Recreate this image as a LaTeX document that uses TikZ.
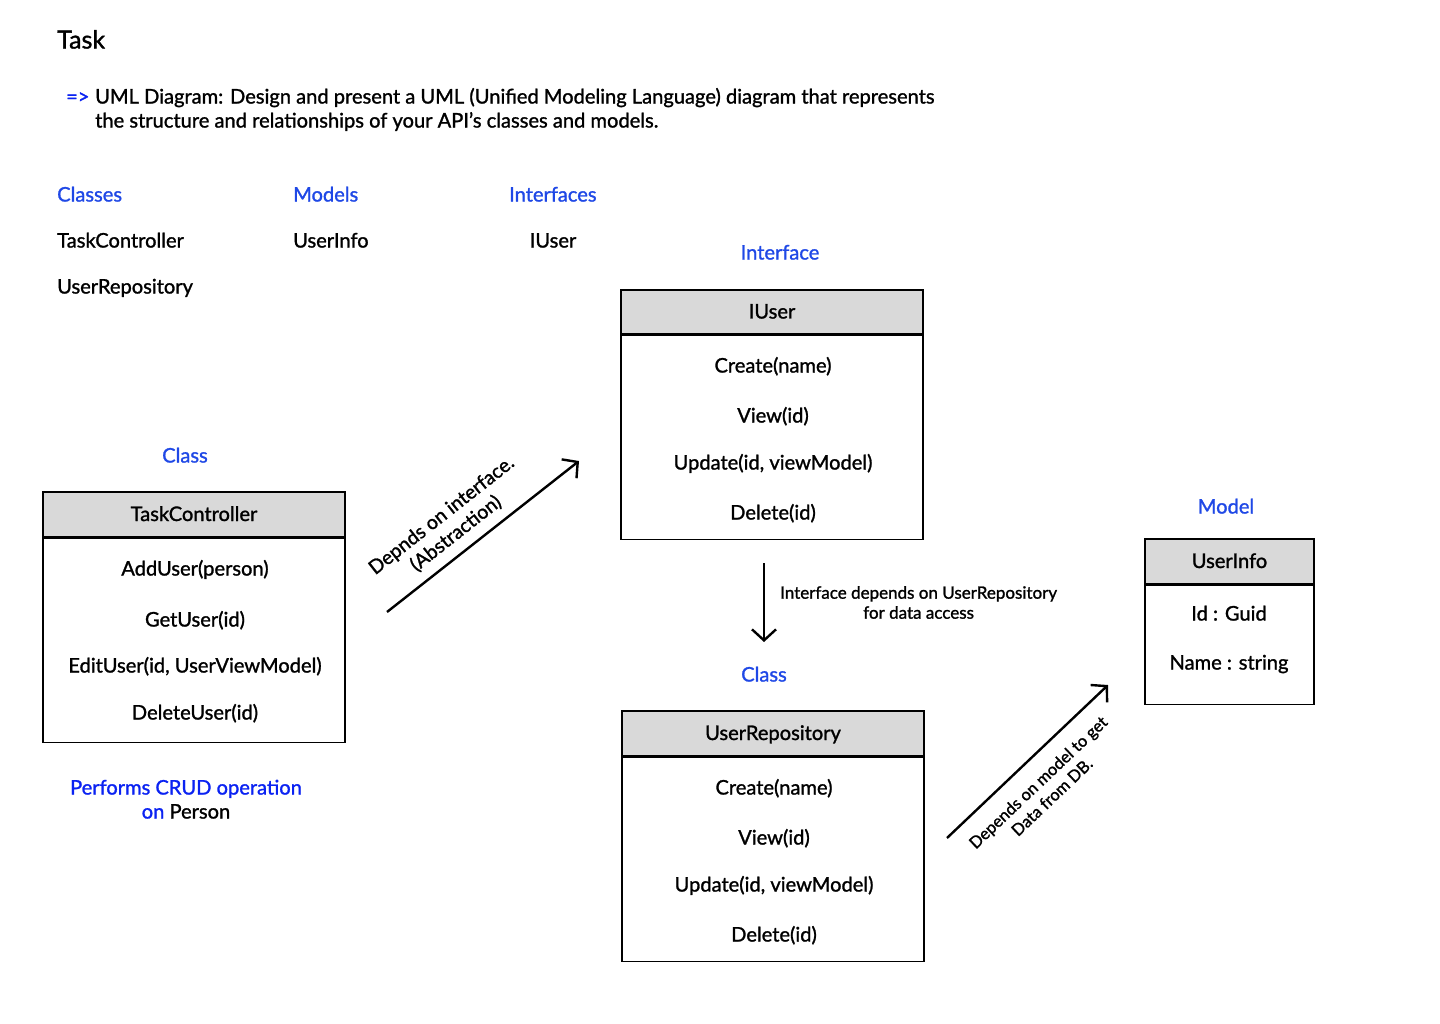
\documentclass[tikz,border=0pt]{standalone}
\usepackage{fontspec}
\setmainfont{Lato}[UprightFeatures={FakeBold=1.3}]
\usetikzlibrary{arrows.meta}
\definecolor{hdrgray}{HTML}{D9D9D9}
\definecolor{lblblue}{HTML}{1F48E6}
\definecolor{crudblue}{HTML}{0A22F2}

\begin{document}
\begin{tikzpicture}[x=1pt, y=-1pt,
    txt/.style={inner sep=0pt, anchor=mid, font=\fontsize{20.1}{24}\selectfont},
    lbl/.style={txt, text=lblblue},
    hdr/.style={draw, fill=hdrgray, line width=1.3pt, inner sep=0pt,
      text height=14pt, text depth=1pt, font=\fontsize{20.1}{24}\selectfont},
    body/.style={draw, line width=1.3pt, anchor=north, inner sep=0pt},
    note/.style={align=center},
    dep/.style={-{Straight Barb[length=11pt, width=24pt]}, line width=2.4pt}]
  \useasboundingbox (0,0) rectangle (1440,1024);

  % heading
  \node [txt, anchor=mid west, font=\fontsize{25}{28}\selectfont] (task) at (57,46) {Task};
  \node [lbl, anchor=mid west, text=crudblue] (arr) at (66,101) {=>};
  \node [txt, anchor=mid west] (desc1) at (95,101) {UML Diagram: Design and present a
    UML (Unified Modeling Language) diagram that represents};
  \node [txt, anchor=mid west] (desc2) at (95,125) {the structure and relationships
    of your API's classes and models.};

  % lists
  \node [lbl, anchor=mid west] (classes) at (57,199) {Classes};
  \node [lbl, anchor=mid west] (models) at (293,199) {Models};
  \node [lbl, anchor=mid west] (ifaces) at (509,199) {Interfaces};
  \node [txt, anchor=mid west] (l1) at (57,245) {TaskController};
  \node [txt, anchor=mid west] (l2) at (57,291) {UserRepository};
  \node [txt, anchor=mid west] (l3) at (293,245) {UserInfo};
  \node [txt] (l4) at (553,245) {IUser};

  % IUser
  \node [lbl] (iulbl) at (780,257) {Interface};
  \node [hdr, minimum width=302pt, minimum height=44pt] (iu) at (772,312) {IUser};
  \node [body, minimum width=302pt, minimum height=204pt] (iub) at (iu.south) {};
  \begin{scope}[every node/.style={txt}]
    \node (iu1) at (773,370) {Create(name)}; \node (iu2) at (773,420) {View(id)};
    \node (iu3) at (773,467) {Update(id, viewModel)}; \node (iu4) at (773,517) {Delete(id)};
  \end{scope}

  % TaskController
  \node [lbl] (tclbl) at (185,460) {Class};
  \node [hdr, minimum width=302pt, minimum height=45pt] (tc) at (194,514.5) {TaskController};
  \node [body, minimum width=302pt, minimum height=204pt] (tcb) at (tc.south) {};
  \begin{scope}[every node/.style={txt}]
    \node (tc1) at (195,573) {AddUser(person)}; \node (tc2) at (195,624) {GetUser(id)};
    \node (tc3) at (195,670) {EditUser(id, UserViewModel)}; \node (tc4) at (195,717) {DeleteUser(id)};
  \end{scope}
  \node [lbl, text=crudblue] (crud1) at (186,792) {Performs CRUD operation};
  \node [lbl, text=crudblue] (crud2) at (186,816) {on \textcolor{black}{Person}};

  % UserRepository
  \node [lbl] (urlbl) at (764,679) {Class};
  \node [hdr, minimum width=302pt, minimum height=45pt] (ur) at (773,733.5) {UserRepository};
  \node [body, minimum width=302pt, minimum height=204pt] (urb) at (ur.south) {};
  \begin{scope}[every node/.style={txt}]
    \node (ur1) at (774,792) {Create(name)}; \node (ur2) at (774,842) {View(id)};
    \node (ur3) at (774,889) {Update(id, viewModel)}; \node (ur4) at (774,939) {Delete(id)};
  \end{scope}

  % UserInfo
  \node [lbl] (uilbl) at (1226,511) {Model};
  \node [hdr, minimum width=169pt, minimum height=45pt] (ui) at (1229.5,561.5) {UserInfo};
  \node [body, minimum width=169pt, minimum height=119pt] (uib) at (ui.south) {};
  \begin{scope}[every node/.style={txt}]
    \node (ui1) at (1229,618) {Id : Guid}; \node (ui2) at (1229,667) {Name : string};
  \end{scope}

  % dependencies
  \coordinate (d1s) at (387,612); \coordinate (d1e) at (579,461);
  \coordinate (d2s) at (764,563); \coordinate (d2e) at (764,642);
  \coordinate (d3s) at (947,838); \coordinate (d3e) at (1108,685);
  \begin{scope}[dep]
    \draw (d1s) to node [note, inner sep=9pt, sloped, above, pos=0.42,
      font=\fontsize{19.5}{23}\selectfont] {Depnds on interface.\\(Abstraction)} (d1e);
    \draw (d2s) to node [note, inner sep=3pt, right=12pt, font=\fontsize{17}{20}\selectfont]
      {Interface depends on UserRepository\\for data access} (d2e);
    \draw (d3s) to node [note, inner sep=15pt, sloped, below, pos=0.47,
      font=\fontsize{16.5}{20}\selectfont] {Depends on model to get\\Data from DB.} (d3e);
  \end{scope}
\end{tikzpicture}
\end{document}
